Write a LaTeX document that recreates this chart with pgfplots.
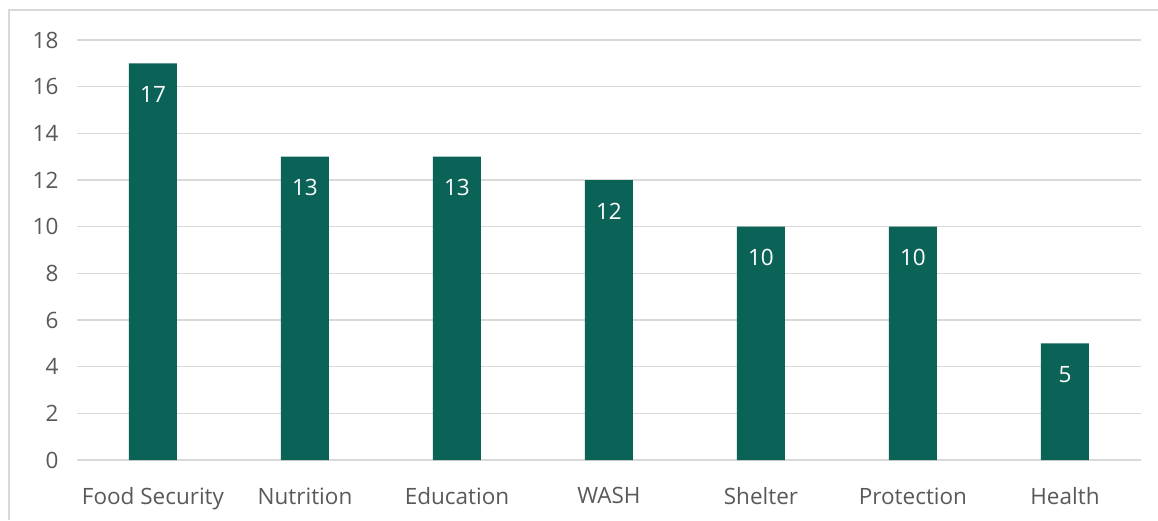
\documentclass[border=0pt]{standalone}
\usepackage{pgfplots}
\pgfplotsset{compat=1.18}
\usepackage{fontspec}
\setmainfont{Open Sans}
\definecolor{barc}{HTML}{0B6358}
\definecolor{gridc}{HTML}{D9D9D9}
\definecolor{txt}{HTML}{595959}
\begin{document}
\begin{tikzpicture}[x=1pt,y=1pt]
\useasboundingbox (0,0) rectangle (1158,520);
\draw[gridc, line width=1.5pt] (9,0) -- (9,510) -- (1158,510);
\begin{axis}[
  at={(77pt,60pt)}, anchor=south west,
  scale only axis, width=1064pt, height=420pt,
  xmin=-0.5, xmax=6.5, ymin=0, ymax=18,
  ytick={0,2,...,18},
  xtick=data,
  xticklabels={Food Security,Nutrition,Education,WASH,Shelter,Protection,Health},
  axis line style={draw=none},
  major tick length=0pt,
  ymajorgrids, grid style={gridc, line width=1.3pt},
  ybar, bar width=48pt,
  tick label style={font=\fontsize{22.5}{26}\selectfont, text=txt},
  /pgf/number format/assume math mode=true,
  yticklabel style={xshift=-15pt},
  xticklabel style={yshift=-24pt},
  nodes near coords,
  every node near coord/.append style={font=\fontsize{22.5}{26}\selectfont, text=white, anchor=center, yshift=-31pt},
  clip=false,
]
\addplot[fill=barc, draw=none] coordinates {(0,17) (1,13) (2,13) (3,12) (4,10) (5,10) (6,5)};
\end{axis}
\end{tikzpicture}
\end{document}
